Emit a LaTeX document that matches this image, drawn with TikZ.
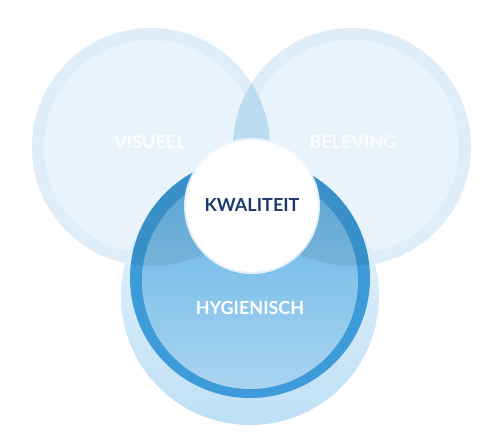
\documentclass[tikz,border=0pt]{standalone}
\usepackage{fontspec}
\setmainfont{Lato}
\begin{document}
\begin{tikzpicture}[x=1pt,y=1pt,
  lbl/.style={font=\fontsize{18}{18}\selectfont\bfseries, inner sep=0pt, anchor=center},
  softlbl/.style={lbl, text=white, text opacity=0.85},
  ]
\definecolor{ringlight}{RGB}{222,237,248}
\definecolor{disklight}{RGB}{233,243,251}
\definecolor{lens}{RGB}{188,220,241}
\definecolor{halo}{RGB}{190,224,245}
\definecolor{halotop}{RGB}{224,240,250}
\definecolor{ringdark}{RGB}{62,155,217}
\definecolor{disktop}{RGB}{96,178,228}
\definecolor{diskbot}{RGB}{170,212,240}
\definecolor{navy}{RGB}{28,58,107}
\useasboundingbox (0,0) rectangle (500,-443);
\fill[white] (0,0) rectangle (500,-443);

\coordinate (L) at (151,-147);
\coordinate (R) at (352,-147);
\coordinate (H) at (250,-278);
\coordinate (Hi) at (250,-281);
\coordinate (Hh) at (250,-296);
\coordinate (K) at (252,-206);

% left and right circles
\fill[ringlight] (L) circle (119);
\fill[disklight] (L) circle (107);
\fill[ringlight] (R) circle (119);
\fill[disklight] (R) circle (107);
% lens between them
\begin{scope}
  \clip (L) circle (119);
  \fill[lens] (R) circle (119);
\end{scope}

% halo of the bottom circle
\begin{scope}
  \clip (Hh) circle (129);
  \shade[top color=halotop, bottom color=halo] (121,-230) rectangle (379,-425);
  \fill[halotop] (121,-160) rectangle (379,-231);
\end{scope}
% bottom circle
\fill[ringdark] (H) circle (120);
\begin{scope}
  \clip (Hi) circle (108);
  \shade[top color=disktop, bottom color=diskbot] (142,-172) rectangle (358,-390);
\end{scope}
% darker overlaps
\begin{scope}
  \clip (L) circle (119);
  \fill[black, opacity=0.07] (H) circle (120);
\end{scope}
\begin{scope}
  \clip (R) circle (119);
  \fill[black, opacity=0.07] (H) circle (120);
\end{scope}

% white centre circle
\fill[white!92!ringdark, opacity=0.9] (K) circle (68);
\fill[white] (K) circle (66);

% labels
\node[softlbl] (visueel) at (150,-142) {VISUEEL};
\node[softlbl] (beleving) at (353,-142) {BELEVING};
\node[lbl, text=navy] (kwaliteit) at (252,-205) {KWALITEIT};
\node[lbl, text=white] (hygienisch) at (250,-308) {HYGIENISCH};
\end{tikzpicture}
\end{document}
